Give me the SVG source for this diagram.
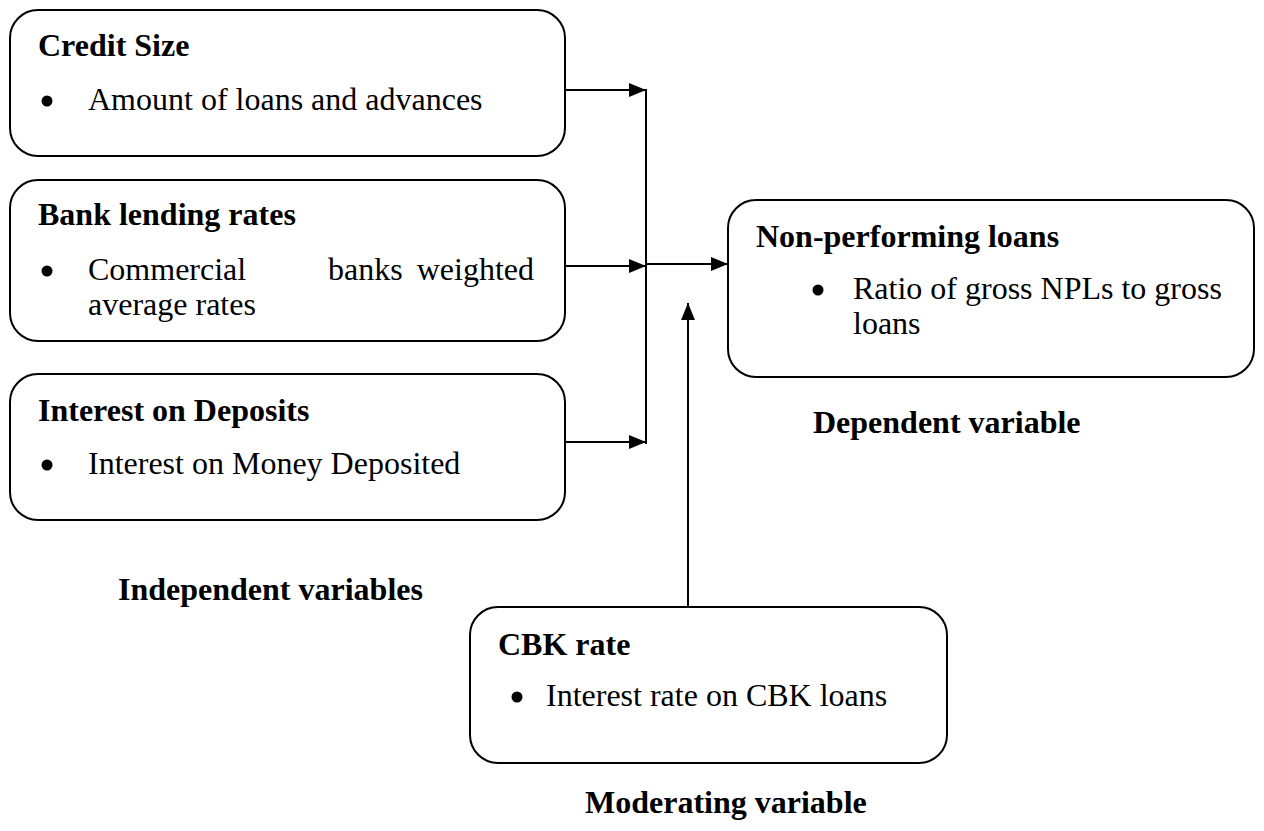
<svg xmlns="http://www.w3.org/2000/svg" width="1264" height="831" viewBox="0 0 1264 831">
<style>
.box{fill:#fff;stroke:#000;stroke-width:2}
.t{font-family:"Liberation Serif","Times New Roman",serif;font-size:32px;fill:#000}
.b{font-weight:bold}
.c{stroke:#000;stroke-width:2;fill:none}
.dot{fill:#000}
</style>
<defs>
<marker id="ah" markerWidth="17" markerHeight="14" refX="17" refY="7" orient="auto" markerUnits="userSpaceOnUse" viewBox="0 0 17 14">
<path d="M0,0 L17,7 L0,14 Z" fill="#000"/>
</marker>
</defs>
<rect width="1264" height="831" fill="#fff"/>
<g id="credit-size">
<rect class="box" x="10" y="10" width="555" height="146" rx="28"/>
<text class="t b" x="38" y="56">Credit Size</text>
<circle class="dot" cx="47" cy="101" r="5.5"/>
<text class="t" x="88" y="110">Amount of loans and advances</text>
</g>
<g id="bank-lending">
<rect class="box" x="10" y="180" width="555" height="161" rx="28"/>
<text class="t b" x="38" y="225">Bank lending rates</text>
<circle class="dot" cx="47" cy="271" r="5.5"/>
<text class="t" x="88" y="280">Commercial</text>
<text class="t" x="328" y="280">banks</text>
<text class="t" x="534" y="280" text-anchor="end">weighted</text>
<text class="t" x="88" y="315">average rates</text>
</g>
<g id="interest-deposits">
<rect class="box" x="10" y="374" width="555" height="146" rx="28"/>
<text class="t b" x="38" y="421">Interest on Deposits</text>
<circle class="dot" cx="47" cy="465" r="5.5"/>
<text class="t" x="88" y="474">Interest on Money Deposited</text>
</g>
<g id="npl">
<rect class="box" x="728" y="200" width="526" height="177" rx="28"/>
<text class="t b" x="756" y="247">Non-performing loans</text>
<circle class="dot" cx="818" cy="290" r="5.5"/>
<text class="t" x="853" y="299">Ratio of gross NPLs to gross</text>
<text class="t" x="853" y="334">loans</text>
</g>
<g id="cbk">
<rect class="box" x="470" y="607" width="477" height="156" rx="28"/>
<text class="t b" x="498" y="655">CBK rate</text>
<circle class="dot" cx="517" cy="697" r="5.5"/>
<text class="t" x="546" y="706">Interest rate on CBK loans</text>
</g>
<g id="labels">
<text class="t b" x="813" y="433">Dependent variable</text>
<text class="t b" x="118" y="600">Independent variables</text>
<text class="t b" x="585" y="813">Moderating variable</text>
</g>
<g id="connectors">
<line class="c" x1="565" y1="90" x2="646" y2="90" marker-end="url(#ah)"/>
<line class="c" x1="565" y1="266" x2="646" y2="266" marker-end="url(#ah)"/>
<line class="c" x1="565" y1="442" x2="646" y2="442" marker-end="url(#ah)"/>
<line class="c" x1="646" y1="89" x2="646" y2="444"/>
<line class="c" x1="646" y1="264" x2="728" y2="264" marker-end="url(#ah)"/>
<line class="c" x1="688" y1="607" x2="688" y2="303" marker-end="url(#ah)"/>
</g>
</svg>
